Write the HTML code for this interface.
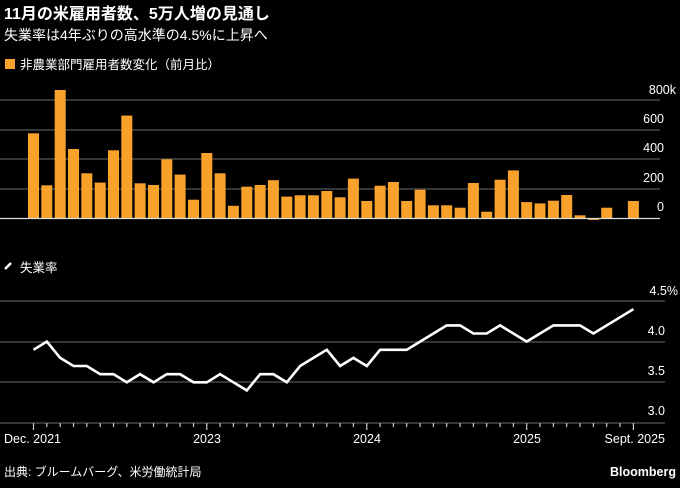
<!DOCTYPE html>
<html><head><meta charset="utf-8"><style>
body{margin:0;background:#000;width:680px;height:483px;overflow:hidden}
text{font-family:"Liberation Sans","Noto Sans CJK JP",sans-serif;fill:#fff}
</style></head><body>
<svg width="680" height="483" xmlns="http://www.w3.org/2000/svg">
<text x="4" y="19" font-size="16" font-weight="bold">11月の米雇用者数、5万人増の見通し</text>
<text x="4" y="40" font-size="14">失業率は4年ぶりの高水準の4.5%に上昇へ</text>
<rect x="5" y="59" width="10" height="10" fill="#f8a22c"/>
<text x="20" y="69" font-size="12.5">非農業部門雇用者数変化（前月比）</text>
<g stroke="#555" stroke-width="1.3">
<line x1="0" y1="100" x2="660" y2="100"/><line x1="0" y1="130" x2="660" y2="130"/>
<line x1="0" y1="159" x2="660" y2="159"/><line x1="0" y1="189" x2="660" y2="189"/>
<line x1="0" y1="301" x2="665" y2="301"/><line x1="0" y1="342" x2="665" y2="342"/>
<line x1="0" y1="382" x2="665" y2="382"/><line x1="0" y1="423" x2="665" y2="423"/>
</g>
<g font-size="12.5" text-anchor="end">
<text x="676" y="94">800k</text><text x="664" y="123">600</text><text x="664" y="152">400</text><text x="664" y="182">200</text><text x="664" y="211">0</text>
<text x="678" y="295">4.5%</text><text x="665" y="335">4.0</text><text x="665" y="375">3.5</text><text x="665" y="415">3.0</text>
</g>
<g id="bars" fill="#f8a22c"></g>
<line x1="0" y1="218.5" x2="660" y2="218.5" stroke="#ddd" stroke-width="1.3"/>
<polyline points="5,269 11,263" stroke="#fff" stroke-width="2.5" fill="none"/>
<text x="20" y="272" font-size="12.5">失業率</text>
<polyline id="ln" fill="none" stroke="#fff" stroke-width="2.6" stroke-linejoin="miter"/>
<g id="ticks" stroke="#ccc" stroke-width="1.2"></g>
<g font-size="12.5">
<text x="4" y="443">Dec. 2021</text>
<text x="207" y="443" text-anchor="middle">2023</text>
<text x="367" y="443" text-anchor="middle">2024</text>
<text x="527" y="443" text-anchor="middle">2025</text>
<text x="665" y="443" text-anchor="end">Sept. 2025</text>
</g>
<text x="4" y="476" font-size="12">出典: ブルームバーグ、米労働統計局</text>
<text x="676" y="476" font-size="12.5" font-weight="bold" text-anchor="end">Bloomberg</text>
</svg>
<script>
var b=[574,222,868,468,303,240,459,694,235,224,398,294,124,441,303,83,212,224,256,145,154,154,183,140,267,115,219,244,115,192,86,86,70,237,43,260,323,108,99,117,156,18,-13,70,-2,115];
var g=document.getElementById('bars'),s='';
b.forEach(function(v,i){var x=28+i*13.33,h=v*0.1475;var y=h>=0?218-h:218;s+='<rect x="'+x.toFixed(1)+'" y="'+y.toFixed(1)+'" width="11" height="'+Math.abs(h).toFixed(1)+'"/>';});
g.innerHTML=s;
var u=[3.9,4.0,3.8,3.7,3.7,3.6,3.6,3.5,3.6,3.5,3.6,3.6,3.5,3.5,3.6,3.5,3.4,3.6,3.6,3.5,3.7,3.8,3.9,3.7,3.8,3.7,3.9,3.9,3.9,4.0,4.1,4.2,4.2,4.1,4.1,4.2,4.1,4.0,4.1,4.2,4.2,4.2,4.1,4.2,4.3,4.4];
document.getElementById('ln').setAttribute('points',u.map(function(v,i){return (33.5+i*13.33).toFixed(1)+','+(301+(4.5-v)*81.3).toFixed(1)}).join(' '));
var t='';for(var i=0;i<46;i++){var x=33.5+i*13.33;var big=(i==0||i==13||i==25||i==37||i==45);t+='<line x1="'+x.toFixed(1)+'" x2="'+x.toFixed(1)+'" y1="423" y2="'+(big?430:427)+'"/>';}
document.getElementById('ticks').innerHTML=t;
</script>
</body></html>
